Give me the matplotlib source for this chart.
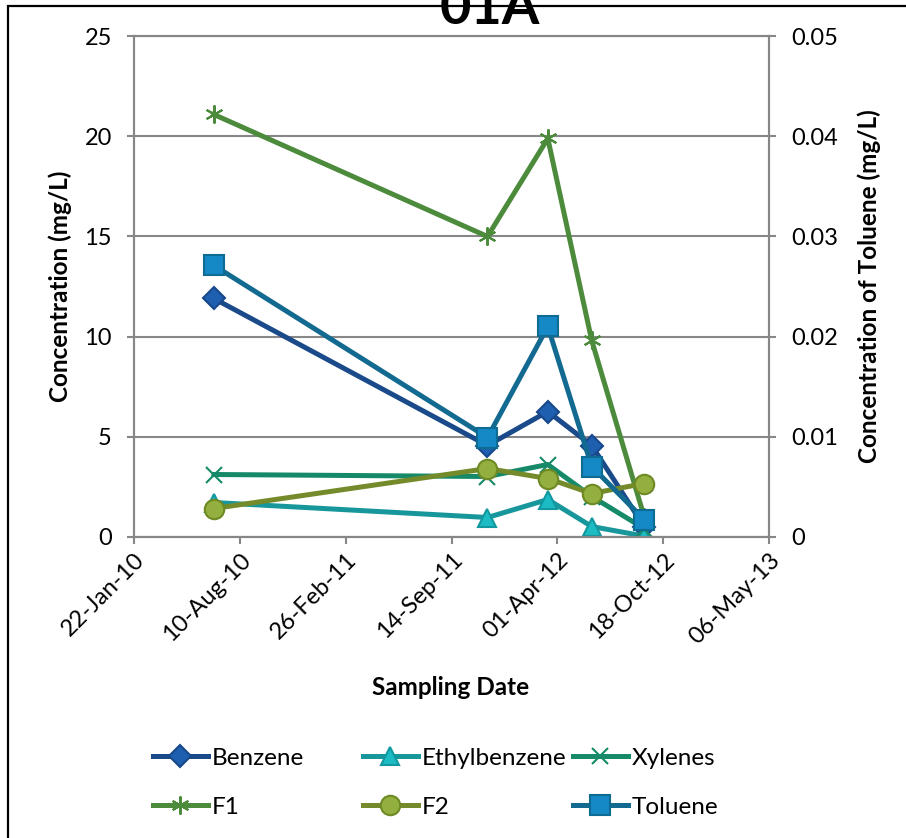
"""
Plots BTEX and F1/F2 concentrations at monitoring well 01A over the sampling period.
Toluene is small compared to the rest, so it gets its own axis on the right.
"""

import datetime as dt
import matplotlib
matplotlib.use("Agg")
import matplotlib.pyplot as plt
import matplotlib.dates as mdates
from matplotlib.patches import Rectangle
from matplotlib.lines import Line2D

plt.rcParams['font.family'] = ['Lato', 'DejaVu Sans']

# sampling dates
sample_dates = [dt.date(2010, 6, 22), dt.date(2011, 11, 21), dt.date(2012, 3, 14),
                dt.date(2012, 6, 5), dt.date(2012, 9, 12)]

# concentrations (mg/L)
benzene = [11.9, 4.55, 6.25, 4.55, 0.5]
ethylbenzene = [1.7, 0.95, 1.85, 0.5, 0.02]
xylenes = [3.1, 3.0, 3.6, 2.0, 0.4]
f1 = [21.1, 15.0, 19.9, 9.8, 1.0]
f2 = [1.4, 3.4, 2.9, 2.15, 2.65]
toluene = [0.0271, 0.0099, 0.021, 0.007, 0.0017]

# axis ranges and ticks
x_start = dt.date(2010, 1, 22)
x_end = dt.date(2013, 5, 6)
tick_step_days = 200
left_ticks = [0, 5, 10, 15, 20, 25]
right_ticks = [0, 0.01, 0.02, 0.03, 0.04, 0.05]
right_tick_labels = ['0', '0.01', '0.02', '0.03', '0.04', '0.05']

grey = '#878787'
TICK_FS = 17
LABEL_FS = 17.5
LEG_FS = 17.5

fig = plt.figure(figsize=(9.06, 8.38), dpi=100)
W, H = 906, 838

# chart frame
fig.patches.append(Rectangle((8 / W, -0.1), 1.2, (H - 6) / H + 0.1, transform=fig.transFigure,
                             fill=False, edgecolor='black', linewidth=1.6))

ax = fig.add_axes([134 / W, (H - 536.5) / H, 635 / W, 500 / H])
ax2 = ax.twinx()

# series on the primary axis: (values, label, line colour, marker, marker face, marker edge, size)
series = [
    (benzene, 'Benzene', '#1A4A8A', 'D', '#1F5FB0', '#17488A', 11),
    (ethylbenzene, 'Ethylbenzene', '#17979C', '^', '#1DBBC3', '#1298A0', 13),
    (xylenes, 'Xylenes', '#168A68', 'x', '#168A68', '#168A68', 12),
    (f1, 'F1', '#4C8B3B', (6, 2, 0), '#4C8B3B', '#4C8B3B', 13),
    (f2, 'F2', '#758B2B', 'o', '#92AF3F', '#6E8A24', 14),
]

handles = []
for vals, label, lc, mk, mfc, mec, ms in series:
    line, = ax.plot(sample_dates, vals, color=lc, linewidth=3.6, marker=mk, markersize=ms,
                    markerfacecolor=mfc, markeredgecolor=mec, markeredgewidth=1.5, label=label)
    handles.append(line)

tol_line, = ax2.plot(sample_dates, toluene, color='#136A91', linewidth=3.6, marker='s', markersize=14,
                     markerfacecolor='#1589C6', markeredgecolor='#0D6B94', markeredgewidth=1.5,
                     label='Toluene')
handles.append(tol_line)

# x axis: dates every 200 days
ax.set_xlim(mdates.date2num(x_start), mdates.date2num(x_end))
xticks = [mdates.date2num(x_start) + i * tick_step_days for i in range(7)]
ax.set_xticks(xticks)
ax.xaxis.set_major_formatter(mdates.DateFormatter('%d-%b-%y'))
plt.setp(ax.get_xticklabels(), rotation=45, ha='right', rotation_mode='anchor', fontsize=TICK_FS)

ax.set_ylim(0, 25)
ax.set_yticks(left_ticks)
ax.set_yticklabels([str(t) for t in left_ticks], fontsize=TICK_FS)
ax2.set_ylim(0, 0.05)
ax2.set_yticks(right_ticks)
ax2.set_yticklabels(right_tick_labels, fontsize=TICK_FS)

ax.grid(True, axis='y', color=grey, linewidth=1.5)
ax.set_axisbelow(True)

for a in (ax, ax2):
    for s in a.spines.values():
        s.set_color(grey)
        s.set_linewidth(1.5)
    a.tick_params(direction='out', length=5, width=1.5, color=grey, pad=11)
ax.tick_params(axis='x', pad=4)

ax.set_ylabel('Concentration (mg/L)', fontsize=LABEL_FS, fontweight='bold')
ax.yaxis.set_label_coords(-0.097, 0.5)
ax2.set_ylabel('Concentration of Toluene (mg/L)', fontsize=LABEL_FS, fontweight='bold')
ax2.yaxis.set_label_coords(1.139, 0.5)
ax.set_xlabel('Sampling Date', fontsize=LABEL_FS, fontweight='bold')
ax.xaxis.set_label_coords(0.499, -0.278)

# title sits on the frame and runs off the top
fig.text(490 / W, (H - 24) / H, '01A', fontsize=39, fontweight='bold', ha='center', va='baseline')

# legend: two rows of three, one entry per slot
legend_x = [153, 363, 573]
legend_y = [758, 807]
order = ['Benzene', 'Ethylbenzene', 'Xylenes', 'F1', 'F2', 'Toluene']
by_label = {h.get_label(): h for h in handles}
for i, name in enumerate(order):
    h = by_label[name]
    proxy = Line2D([], [], color=h.get_color(), linewidth=3.6, marker=h.get_marker(),
                   markersize=h.get_markersize(), markerfacecolor=h.get_markerfacecolor(),
                   markeredgecolor=h.get_markeredgecolor(), markeredgewidth=1.5)
    fig.legend([proxy], [name], loc='center left',
               bbox_to_anchor=(legend_x[i % 3] / W, (H - legend_y[i // 3]) / H),
               frameon=False, fontsize=LEG_FS, handlelength=2.26, handletextpad=0.16,
               borderpad=0, borderaxespad=0, numpoints=1)

fig.savefig('out.png', dpi=100)
